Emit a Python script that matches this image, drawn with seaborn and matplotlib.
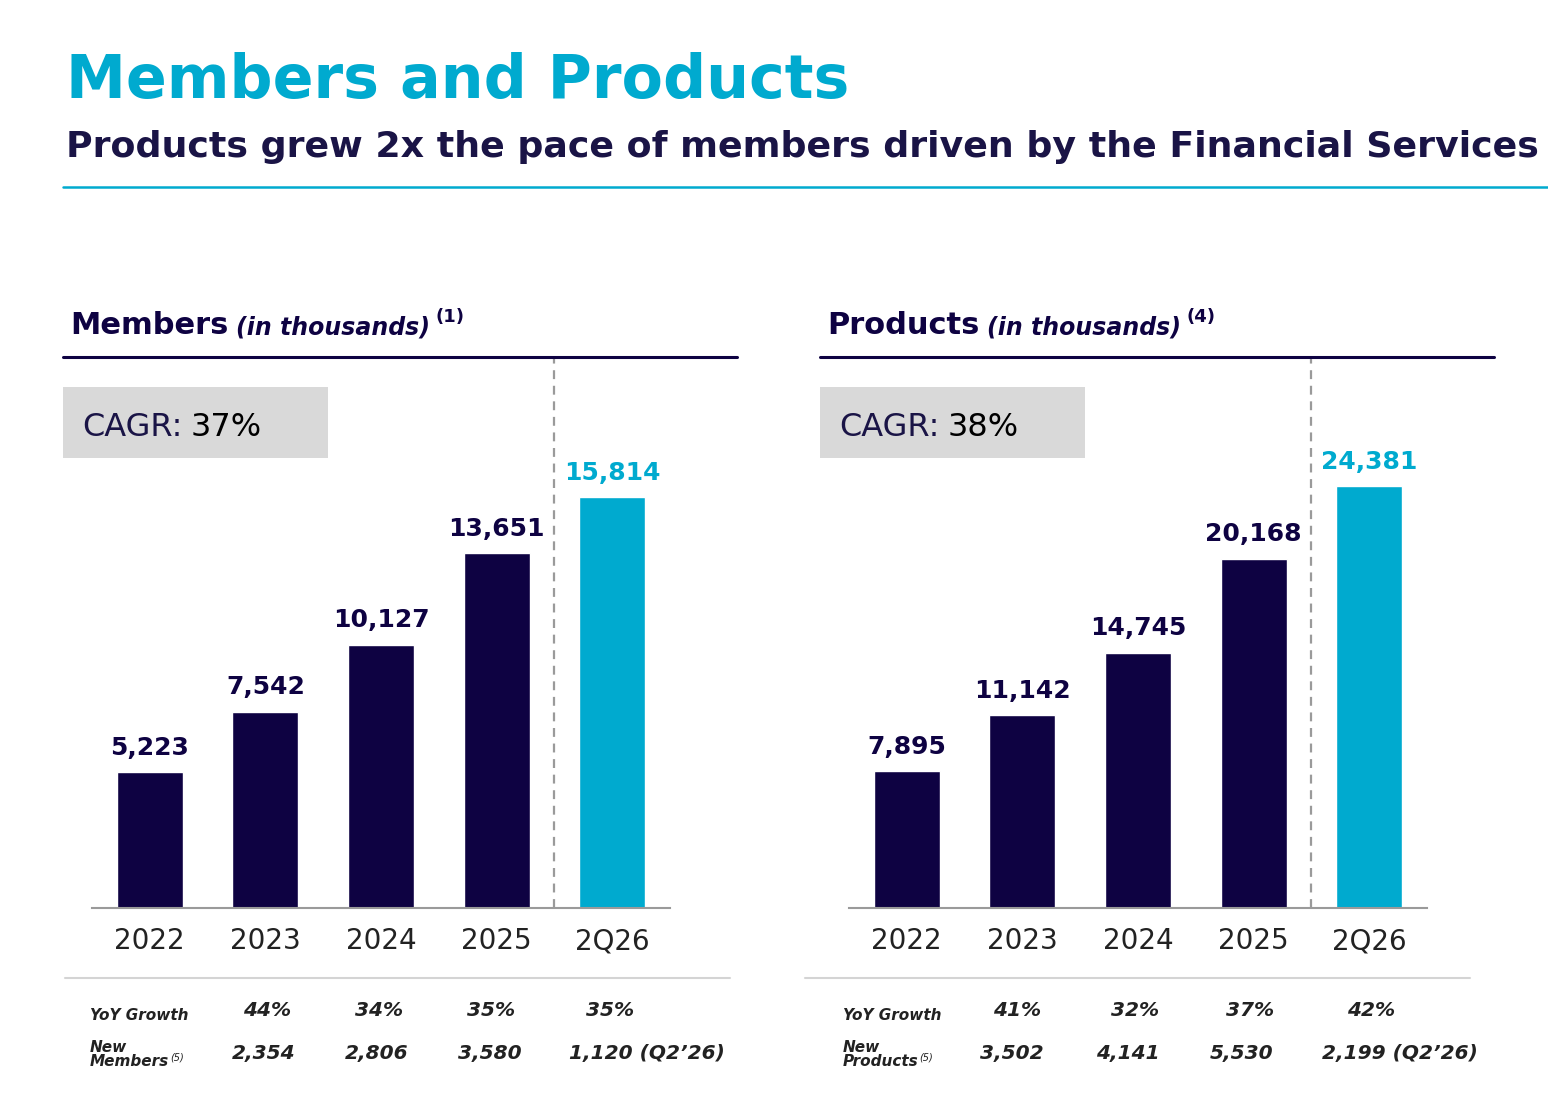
import matplotlib
matplotlib.use("Agg")
import matplotlib.pyplot as plt
import seaborn as sns
import pandas as pd

# ---- data ----
categories = ["2022", "2023", "2024", "2025", "2Q26"]
members = [5223, 7542, 10127, 13651, 15814]
products = [7895, 11142, 14745, 20168, 24381]
members_yoy = ["44%", "34%", "35%", "35%"]
members_new = ["2,354", "2,806", "3,580", "1,120 (Q2\u201926)"]
products_yoy = ["41%", "32%", "37%", "42%"]
products_new = ["3,502", "4,141", "5,530", "2,199 (Q2\u201926)"]
members_cagr = "37%"
products_cagr = "38%"

NAVY = "#0e0242"
CYAN = "#00aacf"
TXT = "#1a1446"

sns.set_theme(style="white")
plt.rcParams["font.family"] = ["DejaVu Sans"]

W, H = 1548, 1120
fig = plt.figure(figsize=(W / 100, H / 100), dpi=100)
fig.patch.set_facecolor("white")

def fx(px):
    return px / W

def fy(py):
    return 1 - py / H

renderer = fig.canvas.get_renderer()

def place(s, x, y, target_w=None, size=12, **kw):
    t = fig.text(fx(x), fy(y), s, fontsize=size, **kw)
    if target_w is not None:
        w = t.get_window_extent(renderer).width
        t.set_fontsize(size * target_w / w)
    return t

def width_of(t):
    return t.get_window_extent(renderer).width

# ---- header ----
place("Members and Products", 66, 98, target_w=784, size=48, color=CYAN,
      fontweight="bold", va="baseline")
place("Products grew 2x the pace of members driven by the Financial Services",
      66, 157, target_w=1474, size=28, color=TXT, fontweight="bold", va="baseline")
fig.add_artist(plt.Line2D([fx(63), fx(1548)], [fy(187), fy(187)], color=CYAN, lw=1.8))


def panel(x0, vals, cagr, name, note, sup, yoy, new, new_label,
          yoy_off, new_off, sep, lab_x, px_per_unit):
    ax_left = x0 + 29
    ax_w = 578
    ax = fig.add_axes([fx(ax_left), fy(908), ax_w / W, (908 - 357) / H])
    df = pd.DataFrame({"cat": categories, "val": vals})
    pal = {c: NAVY for c in categories}
    pal[categories[-1]] = CYAN
    sns.barplot(data=df, x="cat", y="val", hue="cat", palette=pal, legend=False,
                width=0.57, saturation=1, ax=ax)
    ax.set_xlim(-0.5, 4.5)
    ax.set_ylim(0, 551 / px_per_unit)
    ax.set_xlabel("")
    ax.set_ylabel("")
    ax.set_yticks([])
    for sp in ["top", "left", "right"]:
        ax.spines[sp].set_visible(False)
    ax.spines["bottom"].set_color("#9a9a9a")
    ax.spines["bottom"].set_linewidth(1.5)
    ax.tick_params(axis="x", length=0, pad=14, labelsize=20, labelcolor="#222222")
    ax.axvline(3.5, color="#9a9a9a", lw=1.6, ls=(0, (4, 3)), ymin=0, ymax=1)
    for i, v in enumerate(vals):
        ax.annotate(f"{v:,}", (i, v), xytext=(0, 9), textcoords="offset points",
                    ha="center", va="bottom", fontsize=18, fontweight="bold",
                    color=CYAN if i == len(vals) - 1 else NAVY)

    # section header
    t1 = place(name, x0 + 7, 334, size=22, color=NAVY, fontweight="bold", va="baseline")
    x = x0 + 7 + width_of(t1) + 8
    t2 = place(note, x, 334, size=17, color=NAVY, fontweight="bold", style="italic",
               va="baseline")
    x += width_of(t2) + 5
    place(sup, x, 322, size=13, color=NAVY, fontweight="bold", va="baseline")
    fig.add_artist(plt.Line2D([fx(x0), fx(x0 + 674)], [fy(357), fy(357)],
                              color=NAVY, lw=2.2))

    # CAGR box
    fig.add_artist(plt.Rectangle((fx(x0), fy(458)), 265 / W, 71 / H,
                                 color="#d9d9d9", transform=fig.transFigure, lw=0))
    c1 = place("CAGR:", x0 + 19, 436, size=23, color=TXT, va="baseline")
    place(cagr, x0 + 19 + width_of(c1) + 8, 436, size=23, color="black",
          va="baseline")

    # separator
    fig.add_artist(plt.Line2D([fx(sep[0]), fx(sep[1])], [fy(978), fy(978)],
                              color="#d4d4d4", lw=1.5))

    # table
    place("YoY Growth", lab_x, 1015, size=11, color="#222222", fontweight="bold",
          style="italic", va="center")
    place("New", lab_x, 1047, size=11, color="#222222", fontweight="bold",
          style="italic", va="center")
    tl = place(new_label, lab_x, 1062, size=11, color="#222222", fontweight="bold",
               style="italic", va="center")
    place("(5)", lab_x + width_of(tl) + 1, 1057, size=7, color="#222222",
          style="italic", va="center")
    for off, s in zip(yoy_off, yoy):
        place(s, ax_left + off, 1010, size=14.5, color="#222222", fontweight="bold",
              style="italic", ha="center", va="center")
    for off, s in zip(new_off, new):
        place(s, ax_left + off, 1053, size=14.5, color="#222222", fontweight="bold",
              style="italic", ha="center", va="center")


panel(63, members, members_cagr, "Members", "(in thousands)", "(1)",
      members_yoy, members_new, "Members",
      yoy_off=[175, 287, 399, 518], new_off=[172, 285, 398, 555],
      sep=(65, 730), lab_x=90, px_per_unit=411 / 15814)
panel(820, products, products_cagr, "Products", "(in thousands)", "(4)",
      products_yoy, products_new, "Products",
      yoy_off=[168, 286, 401, 522], new_off=[163, 279, 393, 551],
      sep=(805, 1470), lab_x=843, px_per_unit=422 / 24381)

fig.savefig("out.png", dpi=100, facecolor="white")
